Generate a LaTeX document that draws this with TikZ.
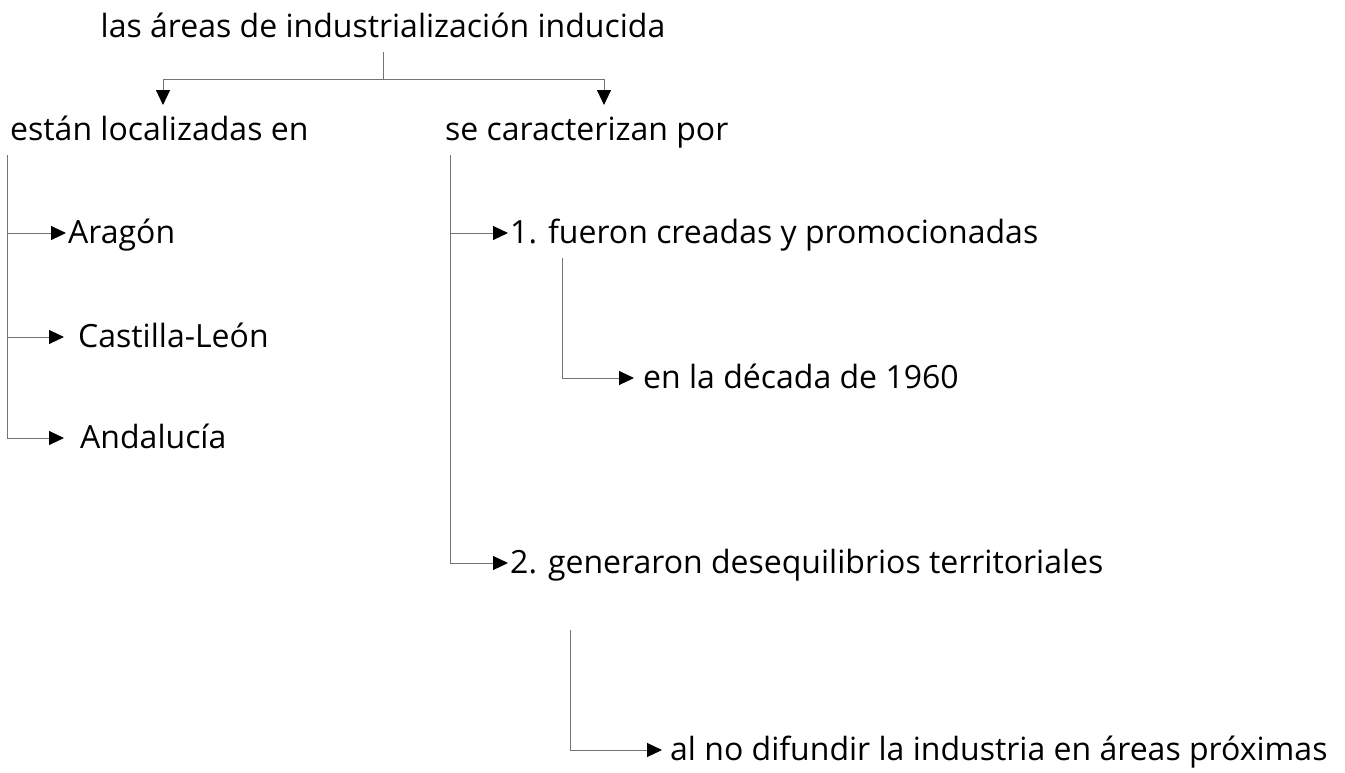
\documentclass[tikz,border=0pt]{standalone}
\usepackage{fontspec}
\setmainfont{Open Sans}
\usepackage{tikz}
\usetikzlibrary{arrows.meta}
\usetikzlibrary{positioning}
\tikzset{
    concept map/.style={
            x=1pt,y=-1pt,
            font=\fontsize{32}{38}\selectfont,
            every node/.style={inner xsep=2pt,inner ysep=0pt,text height=24pt,text depth=4pt,anchor=base west},
            wire/.style={black!55,line width=1pt},
            arrow/.style={wire,-{Triangle[length=15pt,width=14pt,color=black]}}
        }
    }

\begin{document}
\begin{tikzpicture}[concept map]
    \useasboundingbox (0,0) rectangle (1345,772);
    \node (areas) [anchor=base] at (383,37) {las áreas de industrialización inducida};
    \node (loc) at (8,140) {están localizadas en};
    \node (car) at (443,140) {se caracterizan por};
    \node (aragon) at (66,243) {Aragón};
    \node (castilla) at (76,347) {Castilla-León};
    \node (andalucia) at (78,448) {Andalucía};
    \node (creadas) at (508,243) {1. fueron creadas y promocionadas};
    \node (decada) at (641,388) {en la década de 1960};
    \node (deseq) at (508,573) {2. generaron desequilibrios territoriales};
    \node (proximas) at (668,760) {al no difundir la industria en áreas próximas};
    % fork under the title
    \coordinate (fork) at (383,79);
    \coordinate (locTip) at (163,105);
    \coordinate (carTip) at (604,105);
    \draw [wire, shorten <=11pt] (areas.south) -- (fork);
    \draw [arrow] (fork) -| (locTip);
    \draw [arrow] (fork) -| (carTip);
    % left spine
    \coordinate (locSpine) at (7,155);
    \draw [arrow] (locSpine) |- (aragon.west);
    \draw [arrow, shorten >=12pt] (locSpine) |- (castilla.west);
    \draw [arrow, shorten >=14pt] (locSpine) |- (andalucia.west);
    % right spine
    \coordinate (carSpine) at (450,155);
    \draw [arrow] (carSpine) |- (creadas.west);
    \draw [arrow] (carSpine) |- (deseq.west);
    \coordinate (creadasSub) at (562,258);
    \draw [arrow, shorten >=7pt] (creadasSub) |- (decada.west);
    \coordinate (deseqSub) at (570,630);
    \draw [arrow, shorten >=6pt] (deseqSub) |- (proximas.west);
\end{tikzpicture}
\end{document}
